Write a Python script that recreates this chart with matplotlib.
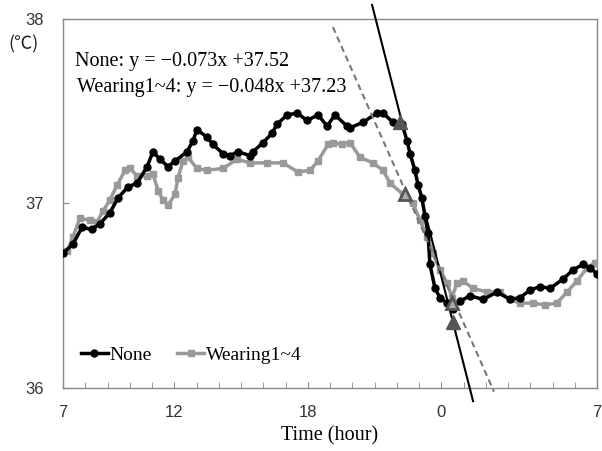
import matplotlib
matplotlib.use("Agg")
import matplotlib.pyplot as plt
import numpy as np

# elapsed hours from 7:00 and skin temperature (deg C)
none_h = [0.0, 0.45, 0.85, 1.30, 1.66, 2.11, 2.47, 2.92, 3.33, 3.78, 4.04, 4.36,
          4.72, 5.03, 5.57, 5.84, 6.02, 6.47, 6.74, 7.19, 7.51, 7.87, 8.40, 8.54,
          8.99, 9.39, 9.62, 10.07, 10.52, 10.97, 11.46, 11.87, 12.22, 12.76, 12.90,
          13.48, 14.11, 14.38, 14.83, 15.24, 15.46, 15.60, 15.82, 15.96, 16.13,
          16.27, 16.40, 16.49, 16.72, 16.94, 17.26, 17.53, 17.84, 18.29, 18.88,
          19.51, 20.09, 20.54, 20.99, 21.44, 21.89, 22.47, 22.92, 23.37, 23.69, 24.0]
none_t = [36.73, 36.78, 36.87, 36.86, 36.89, 36.95, 37.03, 37.09, 37.11, 37.20, 37.28, 37.24,
          37.20, 37.23, 37.28, 37.34, 37.40, 37.36, 37.32, 37.27, 37.26, 37.28, 37.26, 37.28,
          37.33, 37.38, 37.43, 37.48, 37.49, 37.45, 37.48, 37.42, 37.48, 37.42, 37.41,
          37.44, 37.49, 37.49, 37.44, 37.43, 37.34, 37.27, 37.18, 37.10, 37.03,
          36.93, 36.84, 36.67, 36.54, 36.49, 36.46, 36.43, 36.47, 36.50, 36.48,
          36.52, 36.48, 36.49, 36.53, 36.55, 36.54, 36.59, 36.64, 36.67, 36.65, 36.62]

wear_h = [0.0, 0.18, 0.45, 0.76, 1.21, 1.53, 1.80, 2.11, 2.43, 2.79, 3.01, 3.33,
          3.78, 4.04, 4.27, 4.49, 4.72, 5.03, 5.17, 5.39, 5.62, 6.02, 6.47, 7.19,
          7.82, 8.40, 9.17, 9.89, 10.56, 11.10, 11.46, 11.91, 12.13, 12.54, 12.90,
          13.35, 13.93, 14.38, 14.70, 15.28, 15.73, 16.04, 16.36, 16.63, 16.94,
          17.26, 17.48, 17.71, 17.98, 18.43, 19.06, 19.64, 20.09, 20.54, 21.12,
          21.66, 22.20, 22.65, 23.10, 23.55, 23.91, 24.0]
wear_t = [36.73, 36.74, 36.82, 36.92, 36.91, 36.90, 36.96, 37.02, 37.10, 37.18, 37.19, 37.15,
          37.15, 37.16, 37.07, 37.02, 36.99, 37.05, 37.14, 37.23, 37.25, 37.19, 37.18, 37.19,
          37.24, 37.22, 37.22, 37.22, 37.17, 37.18, 37.23, 37.32, 37.33, 37.32, 37.33,
          37.25, 37.22, 37.18, 37.11, 37.05, 37.00, 36.91, 36.82, 36.73, 36.64,
          36.57, 36.49, 36.57, 36.58, 36.54, 36.52, 36.52, 36.48, 36.46, 36.46,
          36.45, 36.46, 36.52, 36.58, 36.65, 36.68, 36.68]

# regression lines in hour units (slope, intercept) and their drawn span
fit_none = (-0.473, 44.646)
fit_none_span = (13.89, 18.43)
fit_wear = (-0.273, 41.268)
fit_wear_span = (12.13, 19.37)

# start / end points of the decline
tri_none_h = [15.15, 17.53]
tri_none_t = [37.44, 36.36]
tri_wear_h = [15.37, 17.48]
tri_wear_t = [37.05, 36.46]

tick_pos = [0, 5, 11, 17, 24]
tick_lab = ["7", "12", "18", "0", "7"]

eq_none = "None: y = \u22120.073x +37.52"
eq_wear = "Wearing1~4: y = \u22120.048x +37.23"


def main():
    fig = plt.figure(figsize=(6.02, 4.51), dpi=100)
    ax = fig.add_axes([0.1047, 0.1397, 0.887, 0.8182])

    ax.plot(none_h, none_t, color="black", lw=2.5, marker="o", ms=5,
            label="None", zorder=4)
    ax.plot(wear_h, wear_t, color="#999999", lw=2.5, marker="s", ms=4.5,
            label="Wearing1~4", zorder=3)

    xs = np.array(fit_none_span)
    ax.plot(xs, fit_none[0] * xs + fit_none[1], color="black", lw=1.5,
            clip_on=False, zorder=5)
    xs = np.array(fit_wear_span)
    ax.plot(xs, fit_wear[0] * xs + fit_wear[1], color="#777777", lw=1.5,
            ls=(0, (3, 2)), clip_on=False, zorder=5)

    ax.plot(tri_none_h, tri_none_t, ls="none", marker="^", ms=10,
            color="#555555", zorder=6)
    ax.plot(tri_wear_h, tri_wear_t, ls="none", marker="^", ms=9,
            mfc="#aaaaaa", mec="#555555", mew=2, zorder=6)

    ax.set_xlim(0, 24)
    ax.set_ylim(36, 38)
    ax.set_yticks([36, 37, 38])
    ax.set_xticks(tick_pos)
    ax.set_xticklabels(tick_lab)
    ax.set_xticks(np.arange(0, 25), minor=True)
    ax.tick_params(axis="both", which="both", direction="in", length=4,
                   color="#888888", labelsize=12, labelcolor="#333333",
                   labelfontfamily="Liberation Sans")
    ax.tick_params(axis="x", which="major", pad=12)
    ax.tick_params(axis="y", which="major", pad=14)
    for sp in ax.spines.values():
        sp.set_color("#888888")
        sp.set_linewidth(1.0)

    ax.text(-0.045, 0.93, "(\u2103)", transform=ax.transAxes, ha="right",
            va="center", fontsize=13, color="#222222",
            family=["Noto Sans CJK KR", "DejaVu Sans"])

    ax.text(0.0225, 0.8835, eq_none, transform=ax.transAxes, ha="left",
            va="center", fontsize=14.5, family="Liberation Serif")
    ax.text(0.026, 0.813, eq_wear, transform=ax.transAxes, ha="left",
            va="center", fontsize=14.5, family="Liberation Serif")

    ax.set_xlabel("Time (hour)", fontsize=14.5, family="Liberation Serif",
                  labelpad=5)

    ax.legend(loc="center left", bbox_to_anchor=(0.0, 0.089), ncol=2,
              frameon=False, handlelength=1.4, handletextpad=0.1,
              columnspacing=1.3, prop={"family": "Liberation Serif", "size": 14})

    fig.savefig("out.png", dpi=100)


if __name__ == '__main__':
    main()
